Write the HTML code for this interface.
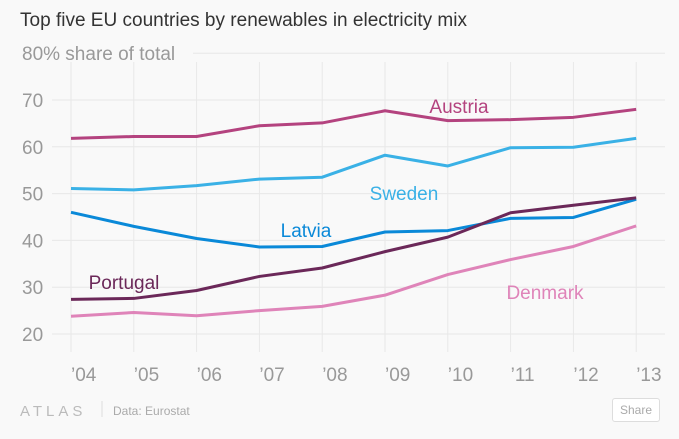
<!DOCTYPE html>
<html><head><meta charset="utf-8"><style>
body{margin:0;background:#f9f9f9;font-family:"Liberation Sans",sans-serif;}
#wrap{position:relative;width:679px;height:439px;overflow:hidden;background:#f9f9f9}
</style></head><body>
<div id="wrap">
<svg id="chart" width="679" height="439"></svg>
<div style="position:absolute;left:612px;top:398px;width:46px;height:22px;border:1px solid #ddd;border-radius:3px;background:#fff;color:#aaa;font-size:12px;line-height:22px;text-align:center">Share</div>
</div>
<script>
const years=["’04","’05","’06","’07","’08","’09","’10","’11","’12","’13"];
const yTicks=[20,30,40,50,60,70,80];
const austria=[61.8,62.2,62.2,64.5,65.1,67.7,65.6,65.8,66.3,68.0];
const sweden=[51.1,50.8,51.7,53.1,53.5,58.2,55.9,59.8,59.9,61.8];
const latvia=[46.0,43.0,40.4,38.6,38.7,41.8,42.1,44.7,44.9,48.8];
const portugal=[27.4,27.6,29.3,32.3,34.1,37.6,40.7,45.9,47.5,49.1];
const denmark=[23.8,24.6,23.9,25.0,25.9,28.3,32.7,35.9,38.7,43.1];
const seriesNames=["Austria","Sweden","Latvia","Portugal","Denmark"];

const svg=document.getElementById('chart');
const NS="http://www.w3.org/2000/svg";
function x(i){return 71+i*62.8;}
function y(v){return 334-(v-20)*4.68;}
function mk(tag,attrs,text){const e=document.createElementNS(NS,tag);for(const k in attrs)e.setAttribute(k,attrs[k]);if(text!=null)e.textContent=text;svg.appendChild(e);return e;}

let t=mk('text',{x:20,y:26,'font-size':19,fill:'#333',textLength:447,lengthAdjust:'spacingAndGlyphs'},'Top five EU countries by renewables in electricity mix');



years.forEach((yr,i)=>{
  const l=mk('line',{x1:x(i),x2:x(i),y1:62,y2:352,stroke:'#e8e8e8','stroke-width':1});
  
  
  const tx=mk('text',{x:x(i),y:381,'font-size':19,fill:'#999'},yr);
  
  
});
yTicks.forEach(v=>{
  const top=v===80;
  const l=mk('line',{x1:top?193:52,x2:665,y1:y(v),y2:y(v),stroke:'#e8e8e8','stroke-width':1});
  
  
  const tx=mk('text',{x:22,y:y(v)+7,'font-size':19,fill:'#999'},top?v+'% share of total':String(v));
  
  
});

const data=[austria,sweden,latvia,portugal,denmark];
const colors=['#b4437f','#3ab1e6','#0a89d8','#6b2859','#df84b9'];
const labelPos=[[459,113],[404,200],[306,237],[124,289],[545,299]];
data.forEach((d,s)=>{
  const p=mk('path',{d:d.map((v,i)=>(i?'L':'M')+x(i)+','+y(v)).join(''),fill:'none',stroke:colors[s],'stroke-width':3,'stroke-linejoin':'round'});
  
  
  const lb=mk('text',{x:labelPos[s][0],y:labelPos[s][1],'font-size':19,fill:colors[s],'text-anchor':'middle'},seriesNames[s]);
  
  
});

const logo=mk('text',{x:20,y:416,'font-size':15,fill:'#bbb','letter-spacing':'4'},'ATLAS');


const sep=mk('line',{x1:102,x2:102,y1:401,y2:417,stroke:'#ddd'});


const src=mk('text',{x:113,y:415,'font-size':12,fill:'#aaa'},'Data: Eurostat');


</script>
</body></html>
